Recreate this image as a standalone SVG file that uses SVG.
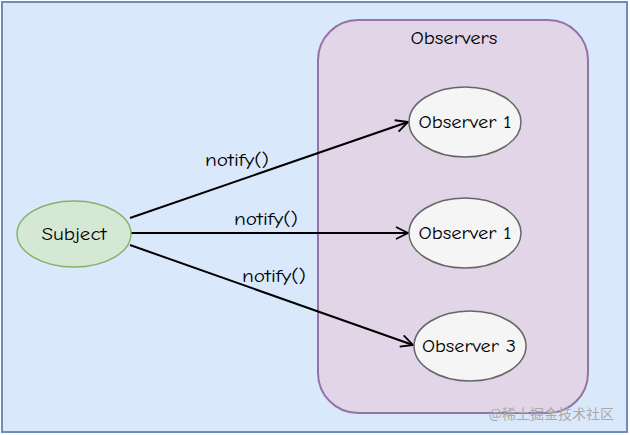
<svg xmlns="http://www.w3.org/2000/svg" width="630" height="435" viewBox="0 0 630 435">
<defs>
<style>
.t{font-family:"Comic Sans MS","Comic Neue","DejaVu Sans","Liberation Sans",sans-serif;font-size:17px;fill:#000;text-anchor:middle;dominant-baseline:central;lengthAdjust:spacingAndGlyphs}
.obs{fill:#f5f5f5;stroke:#666;stroke-width:1.5}
.edge{stroke:#000;stroke-width:2;fill:none}
</style>
<marker id="arr" viewBox="0 0 14 14" refX="13" refY="7" markerWidth="14" markerHeight="14" markerUnits="userSpaceOnUse" orient="auto">
<path d="M1,1 L13,7 L1,13" fill="none" stroke="#000" stroke-width="1.8"/>
</marker>
</defs>
<rect x="2" y="2" width="625" height="430" fill="#dae8fc" stroke="#6c8ebf" stroke-width="2"/>
<g id="observers">
<rect x="318" y="20" width="270" height="393" rx="40" fill="#e1d5e7" stroke="#9673a6" stroke-width="2"/>
<text class="t" x="454" y="38" textLength="87" lengthAdjust="spacingAndGlyphs">Observers</text>
</g>
<g id="connectors">
<line class="edge" x1="130" y1="218" x2="408" y2="122" marker-end="url(#arr)"/>
<line class="edge" x1="130" y1="233" x2="408" y2="233" marker-end="url(#arr)"/>
<line class="edge" x1="130" y1="245" x2="413" y2="345" marker-end="url(#arr)"/>
<text class="t" x="237" y="160" textLength="64" lengthAdjust="spacingAndGlyphs">notify()</text>
<text class="t" x="266" y="219" textLength="64" lengthAdjust="spacingAndGlyphs">notify()</text>
<text class="t" x="274" y="276" textLength="64" lengthAdjust="spacingAndGlyphs">notify()</text>
</g>
<g id="subject">
<ellipse cx="74" cy="234" rx="57" ry="33" fill="#d5e8d4" stroke="#82b366" stroke-width="1.5"/>
<text class="t" x="74" y="234" textLength="65" lengthAdjust="spacingAndGlyphs">Subject</text>
</g>
<g id="observer1a">
<ellipse class="obs" cx="465" cy="122" rx="56" ry="35"/>
<text class="t" x="465" y="122" textLength="93" lengthAdjust="spacingAndGlyphs">Observer 1</text>
</g>
<g id="observer1b">
<ellipse class="obs" cx="465" cy="233" rx="56" ry="35"/>
<text class="t" x="465" y="233" textLength="93" lengthAdjust="spacingAndGlyphs">Observer 1</text>
</g>
<g id="observer3">
<ellipse class="obs" cx="470" cy="346" rx="56" ry="35"/>
<text class="t" x="469" y="346" textLength="94" lengthAdjust="spacingAndGlyphs">Observer 3</text>
</g>
<text x="614" y="413" font-family="'Noto Sans CJK SC',sans-serif" font-size="14" fill="#aaa" text-anchor="end" dominant-baseline="central">@稀土掘金技术社区</text>
</svg>
